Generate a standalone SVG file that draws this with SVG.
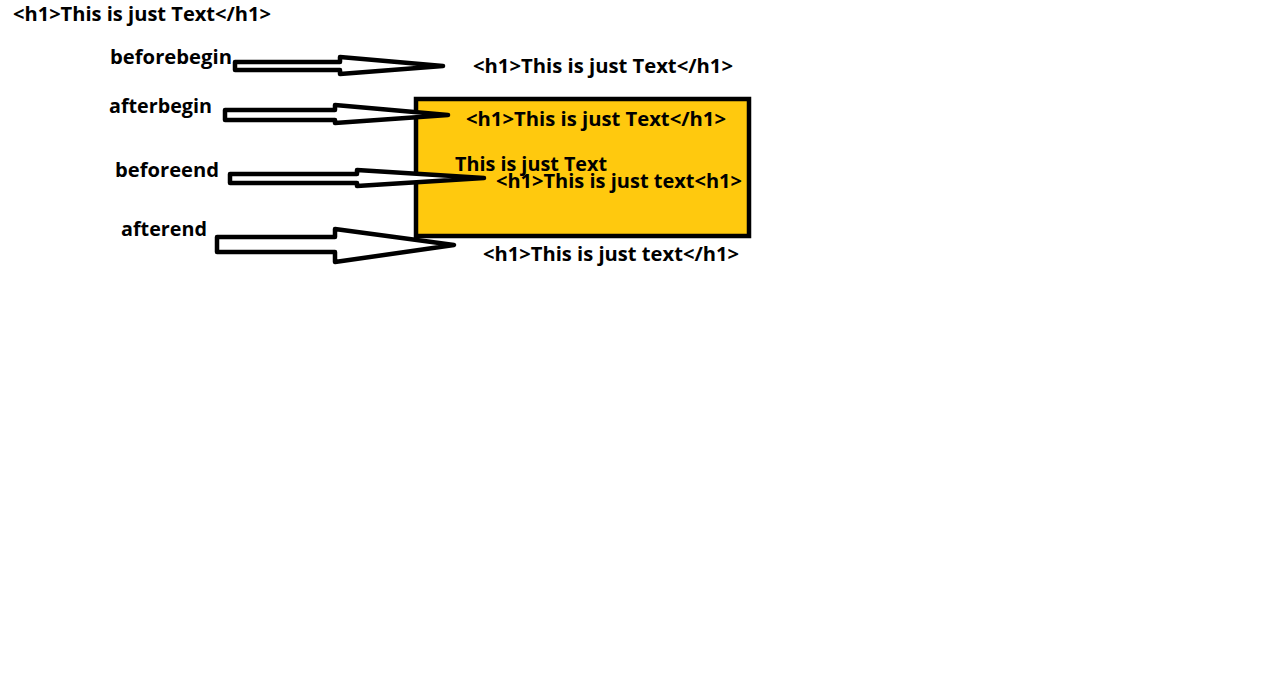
<svg xmlns="http://www.w3.org/2000/svg" width="1283" height="693" viewBox="0 0 1283 693">
<style>
.t{font-family:"Open Sans","Liberation Sans",sans-serif;font-weight:bold;font-size:20px;fill:#000}
.arrow{fill:#fff;stroke:#000;stroke-width:4.5;stroke-linejoin:round}
</style>
<rect width="1283" height="693" fill="#fff"/>
<g id="box">
<rect x="416" y="99" width="333" height="137" fill="#FFC90E" stroke="#000" stroke-width="4.5"/>
</g>
<g id="connectors">
<polygon class="arrow" points="235,62 340,62 340,57 443,66 340,74 340,70 235,70"/>
<polygon class="arrow" points="225,110 335,110 335,105 448,115 335,123 335,120 225,120"/>
<polygon class="arrow" points="230,174 357,174 357,170 484,178 357,186 357,183 230,183"/>
<polygon class="arrow" points="217,237 335,237 335,229 454,245 335,262 335,252 217,252"/>
</g>
<g id="title"><text class="t" x="13" y="21" textLength="258" lengthAdjust="spacingAndGlyphs">&lt;h1&gt;This is just Text&lt;/h1&gt;</text></g>
<g id="beforebegin"><text class="t" x="110" y="64" textLength="122" lengthAdjust="spacingAndGlyphs">beforebegin</text></g>
<g id="afterbegin"><text class="t" x="109" y="113" textLength="103" lengthAdjust="spacingAndGlyphs">afterbegin</text></g>
<g id="beforeend"><text class="t" x="115" y="177" textLength="104" lengthAdjust="spacingAndGlyphs">beforeend</text></g>
<g id="afterend"><text class="t" x="121" y="236" textLength="86" lengthAdjust="spacingAndGlyphs">afterend</text></g>
<g id="result-beforebegin"><text class="t" x="473" y="73" textLength="260" lengthAdjust="spacingAndGlyphs">&lt;h1&gt;This is just Text&lt;/h1&gt;</text></g>
<g id="result-afterbegin"><text class="t" x="466" y="126" textLength="260" lengthAdjust="spacingAndGlyphs">&lt;h1&gt;This is just Text&lt;/h1&gt;</text></g>
<g id="content"><text class="t" x="455" y="171" textLength="152" lengthAdjust="spacingAndGlyphs">This is just Text</text></g>
<g id="result-beforeend"><text class="t" x="496" y="188" textLength="246" lengthAdjust="spacingAndGlyphs">&lt;h1&gt;This is just text&lt;h1&gt;</text></g>
<g id="result-afterend"><text class="t" x="483" y="261" textLength="256" lengthAdjust="spacingAndGlyphs">&lt;h1&gt;This is just text&lt;/h1&gt;</text></g>
</svg>
